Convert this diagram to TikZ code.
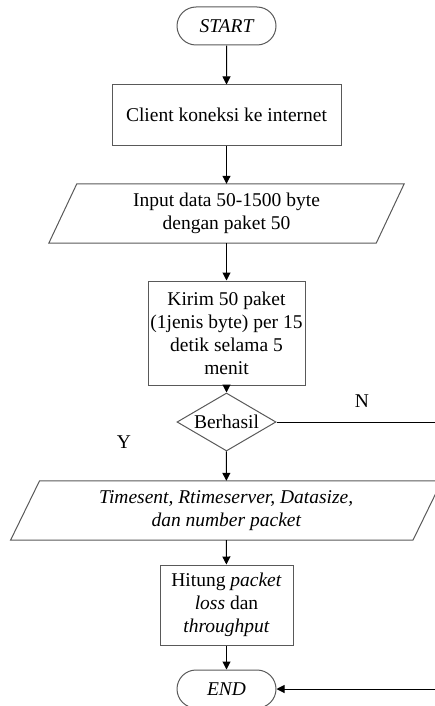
\documentclass[tikz,border=0pt]{standalone}
\usepackage{fontspec}
\setmainfont{Liberation Serif}
\usetikzlibrary{arrows.meta,shapes.geometric,shapes.misc,calc}

\begin{document}
\begin{tikzpicture}[x=1pt,y=-1pt,
  outline/.style={draw=black!65, line width=1pt},
  txt/.style={font=\fontsize{19.5}{23}\selectfont, align=center, text=black},
  terminal/.style={outline, txt, rounded rectangle, minimum width=99pt, minimum height=38pt, inner sep=0pt},
  process/.style={outline, txt, rectangle, inner sep=0pt},
  decision/.style={outline, txt, diamond, aspect=1.7, minimum width=99pt, minimum height=58pt, inner sep=0pt},
  iobox/.style={txt, inner sep=0pt, minimum height=59pt},
  flow/.style={draw=black, line width=1pt, -{Triangle[length=8pt,width=8pt]}},
  label/.style={txt},
]
\useasboundingbox (0,0) rectangle (435,706);
\clip (0,0) rectangle (435,706);

% nodes
\node[terminal] (start) at (226.5,26) {\itshape START};
\node[process, minimum width=229pt, minimum height=60pt] (conn) at (226.5,115) {Client koneksi ke internet};
\node[iobox, minimum width=327pt] (in1) at (226.5,213.5) {Input data 50-1500 byte\\dengan paket 50};
\node[process, minimum width=157pt, minimum height=104pt] (send) at (226.5,333) {Kirim 50 paket\\(1jenis byte) per 15\\detik selama 5\\menit};
\node[decision] (dec) at (226.5,422) {Berhasil};
\node[iobox, minimum width=402pt] (in2) at (226.25,510.5) {\itshape Timesent, Rtimeserver, Datasize,\\\itshape dan number packet};
\node[process, minimum width=133pt, minimum height=80pt] (calc) at (226.5,605) {Hitung \textit{packet}\\\textit{loss} dan\\\textit{throughput}};
\node[terminal] (end) at (226.5,689) {\itshape END};

% parallelogram outlines of the input/output nodes
\draw[outline] ($(in1.north west)+(14,0)$) -- ($(in1.north east)+(14,0)$)
  -- ($(in1.south east)+(-14,0)$) -- ($(in1.south west)+(-14,0)$) -- cycle;
\draw[outline] ($(in2.north west)+(14.5,0)$) -- ($(in2.north east)+(14.5,0)$)
  -- ($(in2.south east)+(-14.5,0)$) -- ($(in2.south west)+(-14.5,0)$) -- cycle;

% branch labels
\node[label] (nlab) at (362,401) {N};
\node[label] (ylab) at (124,442) {Y};

% connectors
\draw[flow] (start) -- (conn);
\draw[flow] (conn) -- (in1);
\draw[flow] (in1) -- (send);
\draw[flow] (send) -- (dec);
\draw[flow] (dec) -- (in2);
\draw[flow] (in2) -- (calc);
\draw[flow] (calc) -- (end);

\coordinate (nright) at (445,422);
\coordinate (eright) at (445,689);
\draw[flow] (dec.east) -- (nright) -- (eright) -- (end.east);
\end{tikzpicture}
\end{document}
